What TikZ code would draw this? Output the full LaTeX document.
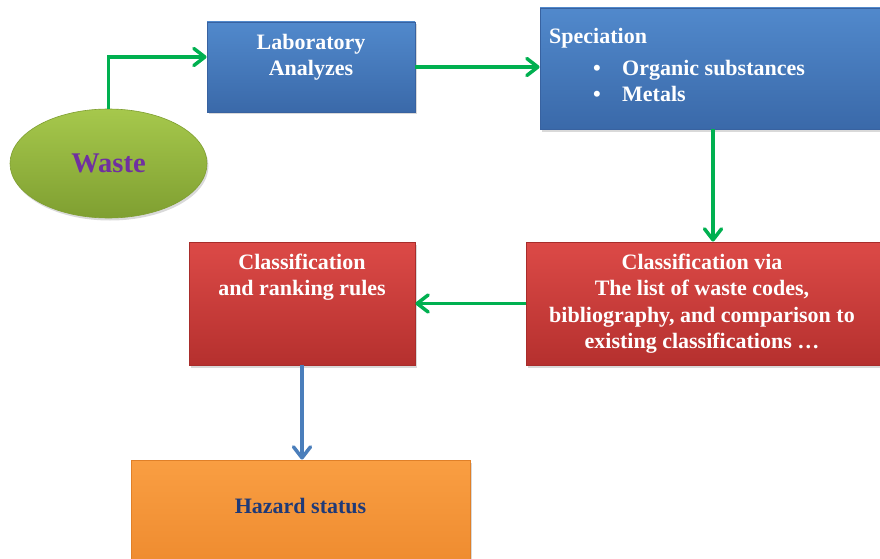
\documentclass[tikz,border=0pt]{standalone}
\usepackage{fontspec}
\setmainfont{Liberation Serif}
\usepackage{tikz}
\usetikzlibrary{positioning}
\usetikzlibrary{shapes.geometric}
\usetikzlibrary{arrows.meta}
\usetikzlibrary{shadows}

\definecolor{bluetop}{HTML}{5189CC}
\definecolor{bluebot}{HTML}{3A69A9}
\definecolor{blueline}{HTML}{3862A0}
\definecolor{redtop}{HTML}{DC4A47}
\definecolor{redbot}{HTML}{B5302E}
\definecolor{redline}{HTML}{A82D2B}
\definecolor{orangetop}{HTML}{F99E42}
\definecolor{orangebot}{HTML}{EC872B}
\definecolor{orangeline}{HTML}{E08028}
\definecolor{greentop}{HTML}{A6C84C}
\definecolor{greenbot}{HTML}{7F9F31}
\definecolor{flowgreen}{HTML}{00B050}
\definecolor{flowblue}{HTML}{4A7EBB}
\definecolor{wastepurple}{HTML}{7030A0}
\definecolor{hazardnavy}{HTML}{1F3A78}

\begin{document}
\begin{tikzpicture}[
    x=1pt, y=-1pt,
    font=\fontsize{22}{26.5}\selectfont\bfseries,
    card/.style={rectangle,draw,line width=0.8pt,inner sep=0pt,
        drop shadow={opacity=0.3,shadow xshift=1.5pt,shadow yshift=-2.5pt}},
    bluecard/.style={card,draw=blueline,top color=bluetop,bottom color=bluebot},
    redcard/.style={card,draw=redline,top color=redtop,bottom color=redbot},
    orangecard/.style={card,draw=orangeline,top color=orangetop,bottom color=orangebot},
    cardtext/.style={align=center,text=white,inner sep=0pt},
    arrow/.style={-{Straight Barb[length=11pt,width=17pt,line width=3.5pt,round]},
        line width=3.2pt,draw=flowgreen},
    bluearrow/.style={arrow,draw=flowblue}
]
\useasboundingbox (0,0) rectangle (880,559);
\clip (0,0) rectangle (880,559);

% boxes
\node[ellipse,draw=greenbot,line width=0.6pt,top color=greentop,bottom color=greenbot,
      minimum width=197pt,minimum height=109pt,inner sep=0pt,
      drop shadow={opacity=0.3,shadow xshift=1.5pt,shadow yshift=-2.5pt},
      font=\fontsize{28.5}{32}\selectfont\bfseries,text=wastepurple] (waste) at (108.5,163.5) {Waste};
\node[bluecard,minimum width=208pt,minimum height=90pt] (lab) at (311,67) {};
\node[bluecard,minimum width=346pt,minimum height=121pt] (spec) at (713,68.5) {};
\node[redcard,minimum width=374pt,minimum height=123pt] (via) at (713,303.5) {};
\node[redcard,minimum width=226pt,minimum height=123pt] (rank) at (302,303.5) {};
\node[orangecard,minimum width=339pt,minimum height=130pt] (hazard) at (300.5,525) {};

% texts
\node[cardtext] (labtext) at (311,57) {Laboratory\\Analyzes};
\node[cardtext,align=left,anchor=west] (spectext) at (549,65)
    {Speciation\\[5.5pt]
     \hspace*{44pt}\makebox[29pt][l]{\textbullet}Organic substances\\
     \hspace*{44pt}\makebox[29pt][l]{\textbullet}Metals};
\node[cardtext] (viatext) at (702,303.5)
    {Classification via\\The list of waste codes,\\bibliography, and comparison to\\existing classifications \dots};
\node[cardtext] (ranktext) at (302,277) {Classification\\and ranking rules};
\node[cardtext,text=hazardnavy] (hazardtext) at (300.5,506) {Hazard status};

% connectors
\draw[arrow] (waste.north) |- ([yshift=10pt]lab.west);
\draw[arrow] (lab.east) -- (lab.east -| spec.west);
\draw[arrow] (spec.south) -- (via.north);
\draw[arrow] (via.west) -- (rank.east);
\draw[bluearrow] (rank.south) -- (rank.south |- hazard.north);
\end{tikzpicture}
\end{document}
